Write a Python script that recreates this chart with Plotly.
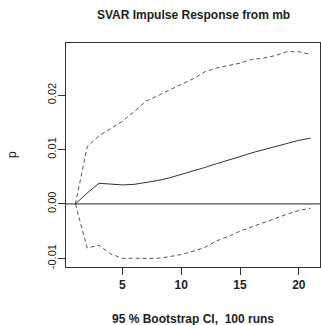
import plotly.graph_objects as go

steps = list(range(1, 22))
irf = [0.0, 0.0020, 0.0038, 0.0036, 0.0035, 0.0036, 0.0039, 0.0043, 0.0048, 0.0054,
       0.0060, 0.0067, 0.0074, 0.0080, 0.0087, 0.0094, 0.0100, 0.0106, 0.0111, 0.0117, 0.0121]
upper = [0.0, 0.0105, 0.0125, 0.0138, 0.0152, 0.0170, 0.0189, 0.0199, 0.0210, 0.0220,
         0.0230, 0.0243, 0.0250, 0.0254, 0.0259, 0.0266, 0.0268, 0.0273, 0.0280, 0.0280, 0.0275]
lower = [0.0, -0.0081, -0.0076, -0.0092, -0.0100, -0.0100, -0.0101, -0.0100, -0.0097, -0.0093,
         -0.0087, -0.0080, -0.0068, -0.0060, -0.0050, -0.0042, -0.0034, -0.0026, -0.0019, -0.0012, -0.0008]
x_ticks = [5, 10, 15, 20]
y_ticks = [-0.01, 0.0, 0.01, 0.02]
y_labels = ["-0.01", "0.00", "0.01", "0.02"]

FONT = "Liberation Sans, Arial, sans-serif"

fig = go.Figure()
fig.add_trace(go.Scatter(x=steps, y=upper, mode="lines",
                         line=dict(color="#555555", width=1, dash="4px,3px")))
fig.add_trace(go.Scatter(x=steps, y=lower, mode="lines",
                         line=dict(color="#555555", width=1, dash="4px,3px")))
fig.add_trace(go.Scatter(x=steps, y=irf, mode="lines",
                         line=dict(color="#333333", width=1)))
fig.add_hline(y=0, line=dict(color="#222222", width=1))

fig.update_layout(
    width=321, height=325,
    margin=dict(l=66, r=1, t=43, b=58),
    plot_bgcolor="white", paper_bgcolor="white",
    showlegend=False,
    font=dict(family=FONT, color="#222222"),
    annotations=[
        dict(text="<b>SVAR Impulse Response from mb</b>", xref="paper", yref="paper",
             x=0.5, y=1, yshift=28, showarrow=False, font=dict(size=12, family=FONT),
             xanchor="center", yanchor="middle"),
        dict(text="<b>95 % Bootstrap CI,  100 runs</b>", xref="paper", yref="paper",
             x=0.5, y=0, yshift=-52, showarrow=False, font=dict(size=12, family=FONT),
             xanchor="center", yanchor="middle"),
        dict(text="p", xref="paper", yref="paper", x=0, xshift=-54, y=0.5,
             showarrow=False, textangle=-90, font=dict(size=12, family=FONT),
             xanchor="center", yanchor="middle"),
    ],
)
fig.update_xaxes(range=[0.2, 21.8], tickvals=x_ticks,
                 ticktext=["<b>%d</b>" % v for v in x_ticks],
                 ticks="outside", ticklen=7, tickcolor="#333333", tickwidth=1,
                 showline=True, linecolor="#333333", linewidth=1, mirror=True,
                 showgrid=False, zeroline=False, tickfont=dict(size=12, family=FONT))
fig.update_yaxes(range=[-0.0116, 0.0296], tickvals=y_ticks, ticktext=y_labels,
                 tickangle=-90, ticklabelstandoff=-2,
                 ticks="outside", ticklen=7, tickcolor="#333333", tickwidth=1,
                 showline=True, linecolor="#333333", linewidth=1, mirror=True,
                 showgrid=False, zeroline=False, tickfont=dict(size=11, family=FONT))

fig.write_html("out.html")
